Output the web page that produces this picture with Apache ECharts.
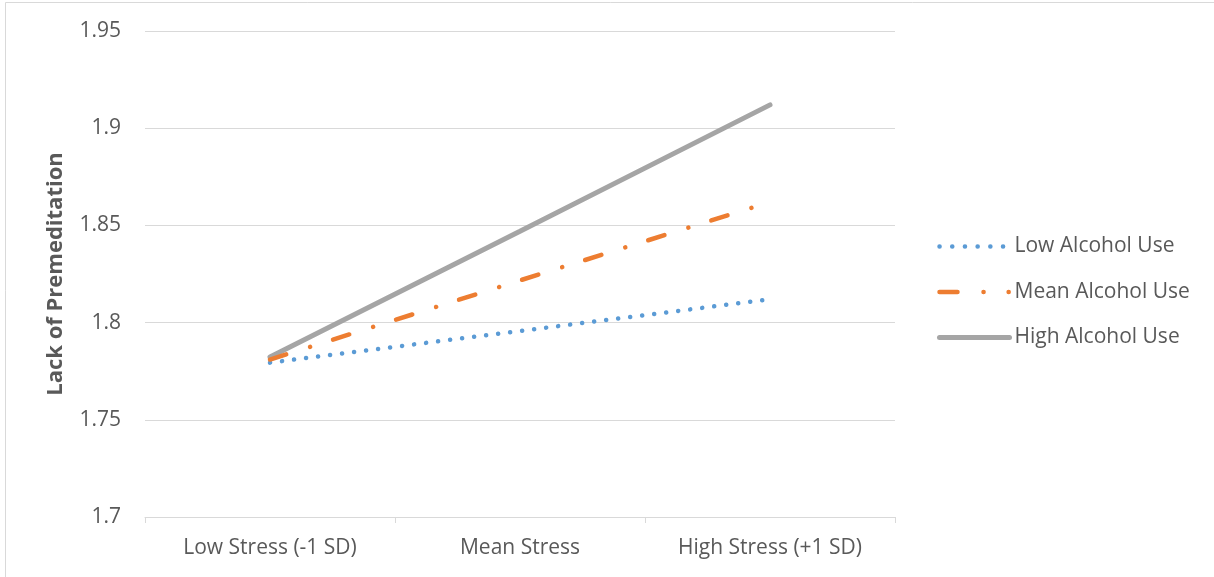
<!DOCTYPE html>
<html><head><meta charset="utf-8">
<script src="https://cdn.jsdelivr.net/npm/echarts@6/dist/echarts.min.js"></script>
<style>html,body{margin:0;padding:0;background:#fff}#c{width:1214px;height:577px}</style>
</head><body><div id="c"></div>
<script>
const categories = ['Low Stress (-1 SD)', 'Mean Stress', 'High Stress (+1 SD)'];
const lowAlcohol = [1.7794, 1.7957, 1.812];
const meanAlcohol = [1.781, 1.8217, 1.862];
const highAlcohol = [1.7823, 1.847, 1.912];
const seriesNames = ['Low Alcohol Use', 'Mean Alcohol Use', 'High Alcohol Use'];
const yTicks = {min: 1.7, max: 1.95, interval: 0.05};

const FONT = '"Open Sans", sans-serif';
const styles = [
  {color:'#5b9bd5', width:4.5, type:[0.1, 12], cap:'round'},
  {color:'#ed7d31', width:4.5, type:[17, 25, 0.1, 24], cap:'round'},
  {color:'#a5a5a5', width:5, type:'solid', cap:'round'}
];
const legendStyles = [
  {color:'#5b9bd5', width:4.5, type:[0.1, 12.6], cap:'round'},
  {color:'#ed7d31', width:4.5, type:[18, 26, 0.1, 25, 0.1, 40], cap:'round'},
  {color:'#a5a5a5', width:5, type:'solid', cap:'round'}
];
const chart = echarts.init(document.getElementById('c'));
chart.setOption({
  animation: false,
  backgroundColor: '#fff',
  graphic: [{type:'rect', shape:{x:5.5,y:2.5,width:1230,height:600}, style:{fill:'none',stroke:'#d9d9d9',lineWidth:1}, silent:true}],
  grid: {left:145, right:319, top:31, bottom:60, containLabel:false},
  legend: {
    orient:'vertical', left:932, top:229.5, itemWidth:70, itemHeight:14, itemGap:21.5,
    textStyle:{fontFamily:FONT, fontSize:21, color:'#595959', lineHeight:24},
    itemStyle:{opacity:0},
    data: seriesNames.map((n, i) => ({name:n, lineStyle:Object.assign({}, legendStyles[i]), itemStyle:{opacity:0}}))
  },
  xAxis: {
    type:'category', data:categories, boundaryGap:true,
    axisLine:{lineStyle:{color:'#d9d9d9', width:1}},
    axisTick:{show:true, length:6, lineStyle:{color:'#d9d9d9'}},
    axisLabel:{fontFamily:FONT, fontSize:21, color:'#595959', margin:21}
  },
  yAxis: {
    type:'value', min:yTicks.min, max:yTicks.max, interval:yTicks.interval,
    name:'Lack of Premeditation', nameLocation:'middle', nameGap:78,
    nameTextStyle:{fontFamily:FONT, fontSize:22, fontWeight:'bold', color:'#595959'},
    axisLine:{show:false}, axisTick:{show:false},
    splitLine:{lineStyle:{color:'#d9d9d9', width:1}},
    axisLabel:{fontFamily:FONT, fontSize:21, color:'#595959', margin:24, padding:[3,0,0,0],
      formatter: v => String(+v.toFixed(2))}
  },
  series: [
    {name:seriesNames[0], type:'line', data:lowAlcohol, symbol:'none', z:3,
      itemStyle:{color:styles[0].color}, lineStyle:styles[0]},
    {name:seriesNames[1], type:'line', data:meanAlcohol, symbol:'none', z:4,
      itemStyle:{color:styles[1].color}, lineStyle:styles[1]},
    {name:seriesNames[2], type:'line', data:highAlcohol, symbol:'none', z:2,
      itemStyle:{color:styles[2].color}, lineStyle:styles[2]}
  ]
});
</script></body></html>
